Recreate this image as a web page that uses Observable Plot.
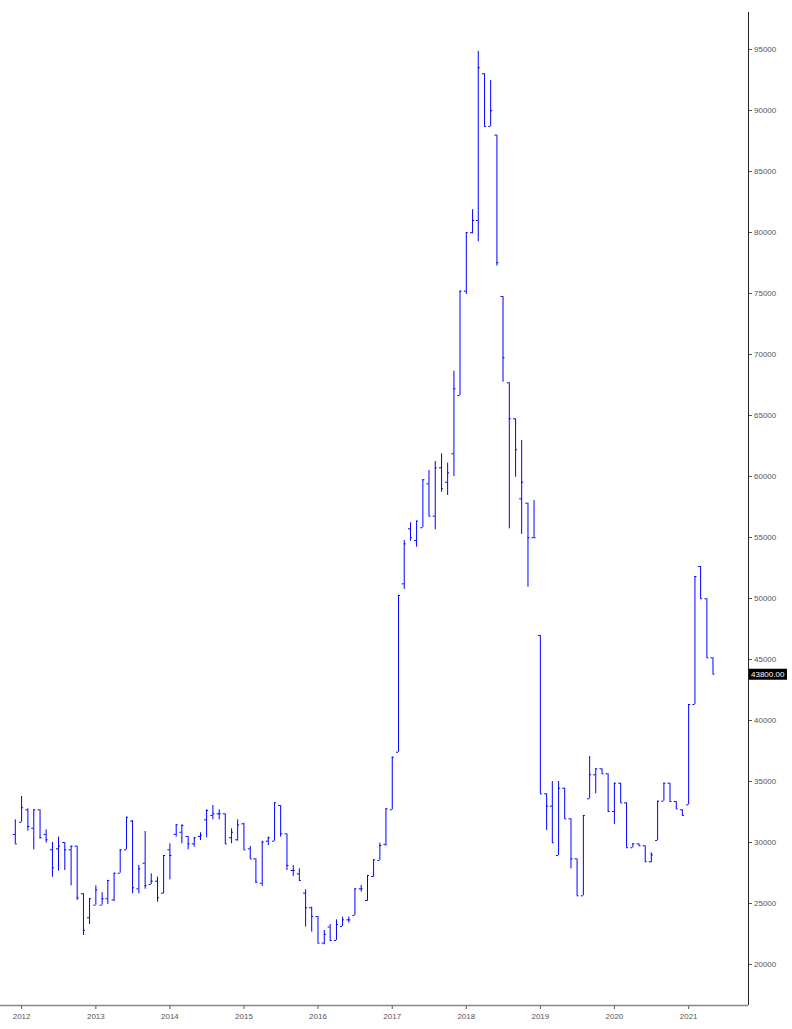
<!DOCTYPE html>
<html>
<head>
<meta charset="utf-8">
<script src="https://cdn.jsdelivr.net/npm/d3@7"></script>
<script src="https://cdn.jsdelivr.net/npm/@observablehq/plot@0.6"></script>
<style>
  html, body { margin: 0; padding: 0; background: #ffffff; }
  #chart svg { display: block; }
</style>
</head>
<body>
<div id="chart"></div>
<script>
// Monthly bars, Dec 2011 – May 2021
const months = [
  "2011-12",
  "2012-01","2012-02","2012-03","2012-04","2012-05","2012-06","2012-07","2012-08","2012-09","2012-10","2012-11","2012-12",
  "2013-01","2013-02","2013-03","2013-04","2013-05","2013-06","2013-07","2013-08","2013-09","2013-10","2013-11","2013-12",
  "2014-01","2014-02","2014-03","2014-04","2014-05","2014-06","2014-07","2014-08","2014-09","2014-10","2014-11","2014-12",
  "2015-01","2015-02","2015-03","2015-04","2015-05","2015-06","2015-07","2015-08","2015-09","2015-10","2015-11","2015-12",
  "2016-01","2016-02","2016-03","2016-04","2016-05","2016-06","2016-07","2016-08","2016-09","2016-10","2016-11","2016-12",
  "2017-01","2017-02","2017-03","2017-04","2017-05","2017-06","2017-07","2017-08","2017-09","2017-10","2017-11","2017-12",
  "2018-01","2018-02","2018-03","2018-04","2018-05","2018-06","2018-07","2018-08","2018-09","2018-10","2018-11","2018-12",
  "2019-01","2019-02","2019-03","2019-04","2019-05","2019-06","2019-07","2019-08","2019-09","2019-10","2019-11","2019-12",
  "2020-01","2020-02","2020-03","2020-04","2020-05","2020-06","2020-07","2020-08","2020-09","2020-10","2020-11","2020-12",
  "2021-01","2021-02","2021-03","2021-04","2021-05"
];

const opens = [
  30650,
  31660,32680,31170,32680,30660,29400,29480,30000,29400,29700,25800,23830,
  24860,24860,25390,25300,27480,29400,31750,26200,28300,26560,26830,25850,
  29400,30660,30840,30490,29890,30490,31860,32210,32350,32350,30390,30220,
  31530,29480,28660,26660,30110,30110,33030,30710,27700,27430,25850,24650,
  23930,21750,23070,21970,23120,23660,24020,26200,25250,27210,28530,29850,
  32680,37400,51200,55710,54750,55800,59400,56750,60710,59530,61860,66640,
  75190,79980,80980,93010,88690,87980,74750,67680,64730,58170,57810,54980,
  46970,33990,32980,28930,34450,31940,28660,25630,33580,35550,36040,35630,
  32540,34860,33250,29570,29890,29730,28420,30160,33390,34860,33360,32680,
  33090,41310,52620,49980,45140
];

const highs = [
  31860,
  33770,32760,32680,32680,31040,30000,30440,30000,29700,29700,25800,25390,
  26450,25880,26890,27480,29400,32070,31800,28120,30900,27430,27160,28930,
  29890,31450,31450,30490,30390,30800,32680,33030,32680,32350,31120,31860,
  31580,29670,28660,30110,30440,33250,33030,30710,28120,27840,26120,24700,
  23930,22790,23280,23660,23880,23880,26200,26480,27300,28580,29940,32760,
  36990,50250,54750,56200,56340,59730,60490,61230,61860,61090,68630,75190,
  79980,81870,94840,93010,92460,87980,74750,67680,64730,62950,57810,58030,
  46970,33990,35000,35000,34450,31940,28660,32210,37050,36040,36040,35630,
  34860,34860,33250,29890,29890,29730,29160,33390,34860,34860,33360,32680,
  41310,51800,52620,49980,45140
];

const lows = [
  29890,
  31660,30930,29400,30300,29940,27160,27650,27700,26450,25250,22380,23280,
  24860,24860,24920,25140,27480,29400,25800,25800,26170,26560,25110,25800,
  26940,30440,29890,29400,29620,30160,30390,31860,31860,29890,29890,30110,
  29400,28660,26660,26390,29750,30110,30440,27700,27210,26890,23070,22650,
  21750,21620,21970,21970,23120,23390,24020,25930,25190,27160,28530,29700,
  32680,37400,50740,54700,54200,55800,56750,55630,58710,58440,60000,66640,
  74920,79890,79240,88690,88690,77240,67730,55710,59940,55250,50930,54980,
  33990,30980,29980,28930,31940,27840,25630,25630,33580,33990,35630,32540,
  31480,33250,29570,29570,29730,28420,28340,30160,33390,33360,32760,32210,
  33090,41310,49980,45140,43800
];

const closes = [
  29890,
  32850,31310,32680,30390,30220,27930,29700,29400,29700,25470,22790,25390,
  26120,25390,26890,27480,29400,32070,26290,27840,26450,26830,25470,28930,
  28930,31450,31390,29890,30390,30600,32620,32350,32350,29890,30840,31450,
  29400,28660,26750,30030,30390,33250,30710,28120,27700,26890,24650,23930,
  21750,22460,21970,23280,23660,23660,26200,26200,27300,28580,29750,32760,
  36990,50250,54480,54980,56340,59730,56750,60710,58990,60300,67190,75190,
  79980,80980,93500,88690,89980,77520,69730,64730,62190,59530,54980,54980,
  33990,32980,29980,34450,31940,28660,25630,32210,35550,36040,35630,32540,
  34860,33250,29570,29890,29730,28420,28990,33390,34860,33360,32760,32210,
  41310,51800,49980,45140,43800
];

// Axis tick labels
const yearTicks = ["2012","2013","2014","2015","2016","2017","2018","2019","2020","2021"];
const priceTicks = [20000,25000,30000,35000,40000,45000,50000,55000,60000,65000,70000,75000,80000,85000,90000,95000];

const parseMonth = d3.utcParse("%Y-%m");
const parseYear = d3.utcParse("%Y");
const bars = months.map((m, i) => ({
  date: parseMonth(m), open: opens[i], high: highs[i], low: lows[i], close: closes[i]
}));

const xDomain = [new Date(Date.UTC(2011, 8, 19)), new Date(Date.UTC(2021, 9, 23))];
const yDomain = [16640, 98030];
const xEnd = xDomain[1];
const lastClose = closes[closes.length - 1];
const barColor = "#0000ff";

const chart = Plot.plot({
  width: 792,
  height: 1029,
  marginLeft: 0,
  marginRight: 44,
  marginTop: 12,
  marginBottom: 24,
  style: {
    fontFamily: "'Liberation Sans', Arial, sans-serif",
    fontSize: "8px",
    color: "#555",
    background: "#ffffff",
    overflow: "visible"
  },
  x: {
    type: "utc",
    domain: xDomain,
    ticks: yearTicks.map(parseYear),
    tickFormat: d3.utcFormat("%Y"),
    tickSize: 4,
    tickPadding: 4,
    label: null
  },
  y: {
    domain: yDomain,
    axis: "right",
    ticks: priceTicks,
    tickFormat: d => String(d),
    tickSize: 3,
    tickPadding: 2.5,
    label: null
  },
  marks: [
    // high-low vertical
    Plot.ruleX(bars, {x: "date", y1: "low", y2: "high", stroke: barColor, strokeWidth: 1}),
    // open tick (left)
    Plot.ruleY(bars, {y: "open", x1: "date", x2: "date", insetLeft: -2, insetRight: 0, stroke: barColor, strokeWidth: 1}),
    // close tick (right)
    Plot.ruleY(bars, {y: "close", x1: "date", x2: "date", insetLeft: 0, insetRight: -2, stroke: barColor, strokeWidth: 1}),
    // x axis line
    Plot.ruleY([yDomain[0]], {stroke: "#888", strokeWidth: 1.5}),
    // y axis line (right)
    Plot.ruleX([xEnd], {stroke: "#222", strokeWidth: 1}),
    // last price label
    Plot.ruleY([lastClose], {y: d => d, x1: () => xEnd, x2: () => xEnd, insetLeft: 1, insetRight: -39, stroke: "#000", strokeWidth: 11}),
    Plot.text([lastClose], {x: () => xEnd, y: d => d, text: d => d.toFixed(2), dx: 2.5, textAnchor: "start", fill: "#fff", fontSize: 8})
  ]
});

document.getElementById("chart").appendChild(chart);
</script>
</body>
</html>
